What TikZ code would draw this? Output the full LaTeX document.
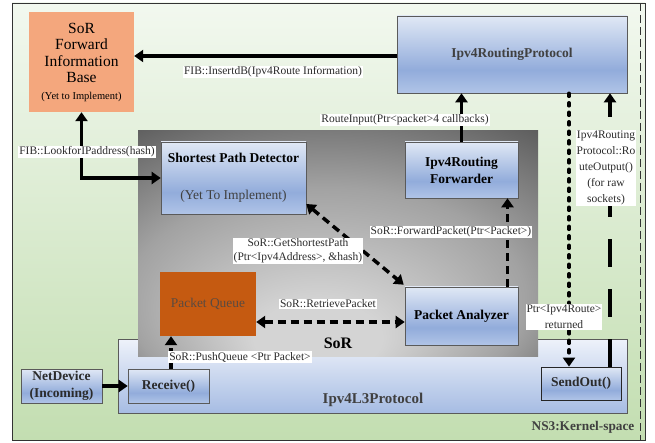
\documentclass[tikz,border=0pt]{standalone}
\usepackage{fontspec}
\setmainfont{Liberation Serif}
\usetikzlibrary{arrows.meta,calc}
\definecolor{gtop}{HTML}{F2F8EF}
\definecolor{gbot}{HTML}{C3DEB1}
\definecolor{btop}{HTML}{E0E8F5}
\definecolor{bmid}{HTML}{92ACDB}
\definecolor{bbot}{HTML}{B0C4E7}
\definecolor{ltop}{HTML}{EEF2FA}
\definecolor{lbot}{HTML}{A6BCE3}
\definecolor{sorlight}{HTML}{D4D4D4}
\definecolor{sormid}{HTML}{A2A2A2}
\definecolor{sordark}{HTML}{5C5C5C}
\definecolor{fibc}{HTML}{F4A77D}
\definecolor{pqc}{HTML}{C55A11}
\definecolor{pqtext}{HTML}{5A4A40}
\definecolor{txt}{HTML}{2B2B2B}
\definecolor{txtgray}{HTML}{404040}
\definecolor{edge}{HTML}{5A5A5A}
\pgfdeclareverticalshading{greenshade}{100bp}{color(0bp)=(gbot); color(25bp)=(gbot); color(75bp)=(gtop); color(100bp)=(gtop)}
\pgfdeclareverticalshading{blueshade}{100bp}{color(0bp)=(bbot); color(25bp)=(bbot); color(40bp)=(bmid); color(75bp)=(btop); color(100bp)=(btop)}
\pgfdeclareverticalshading{l3shade}{100bp}{color(0bp)=(lbot); color(25bp)=(lbot); color(75bp)=(ltop); color(100bp)=(ltop)}
\pgfdeclareradialshading{sorshade}{\pgfpoint{-3bp}{-25bp}}{color(0bp)=(sorlight); color(8bp)=(sorlight); color(25bp)=(sormid); color(40bp)=(sordark); color(50bp)=(sordark)}
\tikzset{
  lbl/.style={fill=white, inner sep=1pt, font=\fontsize{11.5}{14}\selectfont, text=txt, align=center},
  bluebox/.style={shade, shading=blueshade, draw=edge, line width=0.6pt, font=\fontsize{13.5}{17}\selectfont\bfseries, text=txt, align=center, inner sep=0pt},
  thickarr/.style={line width=3.5pt, -{Triangle[length=9pt,width=12pt]}},
  thickarrtwo/.style={line width=3.5pt, {Triangle[length=9pt,width=12pt]}-{Triangle[length=9pt,width=12pt]}},
  dasharr/.style={thickarr, dash pattern=on 8pt off 5pt},
  dasharrtwo/.style={thickarrtwo, dash pattern=on 8pt off 5pt},
  dotarr/.style={thickarr, line cap=round, dash pattern=on 3pt off 6.5pt},
  longarr/.style={thickarr, dash pattern=on 28pt off 22pt},
}
\begin{document}
\begin{tikzpicture}[x=1pt,y=-1pt]
\useasboundingbox (0,0) rectangle (655,443);
% background
\shade[shading=greenshade, draw=black!80, line width=0.8pt] (12,3) rectangle (645,440);
\draw[black!80, line width=0.7pt, dash pattern=on 8pt off 4pt] (640,3) -- (640,440);

% boxes
\node[fill=fibc, minimum width=105, minimum height=100, inner sep=0pt, align=center, font=\fontsize{15.5}{16.5}\selectfont] (fib) at (81.5,62)
  {SoR\\Forward\\Information\\Base\\{\fontsize{10.5}{12}\selectfont(Yet to Implement)}};
\node[bluebox, minimum width=230, minimum height=77, text=txtgray] (rp) at (512,54.5) {Ipv4RoutingProtocol};
\node[shade, shading=l3shade, draw=edge, line width=0.7pt, minimum width=509, minimum height=74, inner sep=0pt] (l3) at (372.5,376) {};
\node[font=\fontsize{15}{17}\selectfont\bfseries, text=txtgray] (l3t) at (373,400) {Ipv4L3Protocol};
\node[shade, shading=sorshade, minimum width=400, minimum height=225, inner sep=0pt] (sor) at (338,243.5) {};
\node[font=\fontsize{16}{18}\selectfont\bfseries, text=black] (sort) at (338,343) {SoR};

\node[bluebox, minimum width=81, minimum height=34] (net) at (61.5,386) {NetDevice\\(Incoming)};
\node[bluebox, minimum width=81, minimum height=34] (recv) at (168.5,386) {Receive()};
\node[bluebox, draw=black!85, line width=0.8pt, minimum width=80, minimum height=33] (send) at (581,383.5) {SendOut()};

\node[bluebox, minimum width=145, minimum height=72, text=black] (spd) at (233.5,178)
  {Shortest Path Detector\\[20pt]{\mdseries\color{txtgray}(Yet To Implement)}};
\node[bluebox, minimum width=113, minimum height=56, text=black] (fwd) at (461.5,170) {Ipv4Routing\\Forwarder};
\node[fill=pqc, minimum width=96, minimum height=64, inner sep=0pt, font=\fontsize{13.4}{16}\selectfont, text=pqtext] (pq) at (208,304) {Packet Queue};
\node[bluebox, minimum width=113, minimum height=58, text=black] (pa) at (461.5,316) {Packet Analyzer};
\node[font=\fontsize{13.3}{15}\selectfont\bfseries, text=txtgray] (ns3) at (583,427) {NS3:Kernel-space};

% connectors
\draw[thickarr] (net.east) -- (recv.west);
\draw[thickarr] ($(rp.west)+(0,1.5)$) -- ($(fib.east)+(0,-6)$);
\draw[thickarrtwo] (fib.south) |- (spd.west);
\draw[thickarr] (fwd.north) -- (fwd.north |- rp.south);
\draw[dasharr] ($(pa.north)+(46,0)$) -- ($(fwd.south)+(46,0)$);
\draw[dasharrtwo] ($(spd.east)+(0,26)$) -- ($(pa.north west)+(-1,-2)$);
\draw[dasharrtwo] ($(pq.east)+(0,18)$) -- ($(pa.west)+(0,6)$);
\draw[dasharr] ($(recv.north)+(2.5,0)$) -- ($(pq.south)+(-37,0)$);
\draw[dotarr] ($(rp.south)+(57,0)$) -- ($(send.north)+(-12,0)$);
\draw[longarr] ($(send.north)+(29,0)$) -- ($(rp.south)+(98,0)$);

% labels
\node[lbl] (lab1) at (273,72) {FIB::InsertdB(Ipv4Route Information)};
\node[lbl] (lab2) at (87,152) {FIB::LookforIPaddress(hash)};
\node[lbl] (lab3) at (405,120) {RouteInput(Ptr<packet>4 callbacks)};
\node[lbl] (lab4) at (451,232) {SoR::ForwardPacket(Ptr<Packet>)};
\node[lbl] (lab5) at (298,251) {SoR::GetShortestPath\\(Ptr<Ipv4Address>, \&hash)};
\node[lbl] (lab6) at (328,304) {SoR::RetrievePacket};
\node[lbl] (lab7) at (240,357) {SoR::PushQueue <Ptr Packet>};
\node[lbl, font=\fontsize{11.5}{16}\selectfont] (lab8) at (564,317) {Ptr<Ipv4Route>\\returned};
\node[lbl, font=\fontsize{11.5}{16}\selectfont] (lab9) at (606,168) {Ipv4Routing\\Protocol::Ro\\uteOutput()\\(for raw\\sockets)};
\end{tikzpicture}
\end{document}
